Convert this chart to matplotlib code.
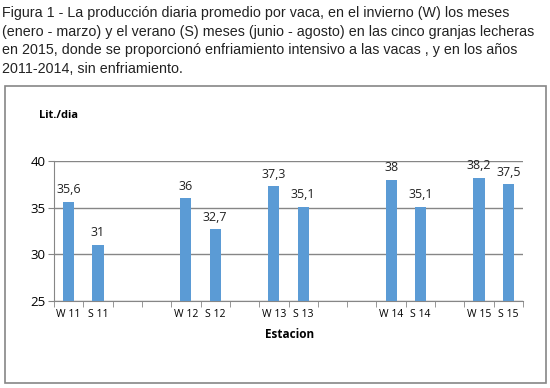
import matplotlib
matplotlib.use("Agg")
import matplotlib.pyplot as plt
from matplotlib.patches import Rectangle

# ── Data ──────────────────────────────────────────────────────────────────
labels = ["W 11", "S 11", "", "", "W 12", "S 12", "", "W 13", "S 13",
          "", "", "W 14", "S 14", "", "W 15", "S 15"]
values = [35.6, 31.0, None, None, 36.0, 32.7, None, 37.3, 35.1,
          None, None, 38.0, 35.1, None, 38.2, 37.5]
value_text = ["35,6", "31", "", "", "36", "32,7", "", "37,3", "35,1",
              "", "", "38", "35,1", "", "38,2", "37,5"]
y_ticks = [25, 30, 35, 40]

title = ("Figura 1 - La producción diaria promedio por vaca, en el invierno (W) los meses\n"
         "(enero - marzo) y el verano (S) meses (junio - agosto) en las cinco granjas lecheras\n"
         "en 2015, donde se proporcionó enfriamiento intensivo a las vacas , y en los años\n"
         "2011-2014, sin enfriamiento.")

W, H = 550, 388
fig = plt.figure(figsize=(W / 100, H / 100), dpi=100)
fig.patch.set_facecolor("white")

# title block
fig.text(2 / W, 1 - 6 / H, title, ha="left", va="top", fontsize=10.3,
         family="Liberation Sans", color="#222222", linespacing=1.41)

# chart border
fig.patches.append(Rectangle((5 / W, 1 - 383 / H), 541 / W, 297 / H,
                             transform=fig.transFigure, fill=False,
                             edgecolor="#868686", lw=1.2))

ax = fig.add_axes([54 / W, 1 - 301 / H, 469 / W, 140 / H])
ax.set_facecolor("none")

n = len(labels)
xs = [i for i, v in enumerate(values) if v is not None]
ys = [v for v in values if v is not None]
ax.bar(xs, [y - 25 for y in ys], bottom=25, width=0.38, color="#5B9BD5", zorder=3)

for i, v in enumerate(values):
    if v is not None:
        ax.text(i, v + 0.6, value_text[i], ha="center", va="bottom",
                fontsize=9, family="Open Sans", color="#222222")

ax.set_xlim(-0.5, n - 0.5)
ax.set_ylim(25, 40)
ax.set_yticks(y_ticks)
ax.set_yticklabels([str(t) for t in y_ticks], fontsize=9.5, family="Open Sans")
ax.yaxis.grid(True, color="#868686", lw=1, zorder=0)

ax.set_xticks(range(n))
ax.set_xticklabels(labels, fontsize=7.5, family="Open Sans")
ax.tick_params(axis="x", length=0, pad=6)
ax.set_xticks([i - 0.5 for i in range(n + 1)], minor=True)
ax.tick_params(axis="x", which="minor", length=4, color="#868686")
ax.tick_params(axis="y", length=4, color="#868686", pad=2)

for s in ["top", "right"]:
    ax.spines[s].set_visible(False)
ax.spines["left"].set_color("#868686")
ax.spines["bottom"].set_color("#868686")

fig.text(39 / W, 1 - 115 / H, "Lit./dia", ha="left", va="center",
         fontsize=8, fontweight="bold", family="Open Sans")
fig.text(290 / W, 1 - 334 / H, "Estacion", ha="center", va="center",
         fontsize=8.5, fontweight="bold", family="Open Sans")

fig.savefig("out.png", dpi=100)
